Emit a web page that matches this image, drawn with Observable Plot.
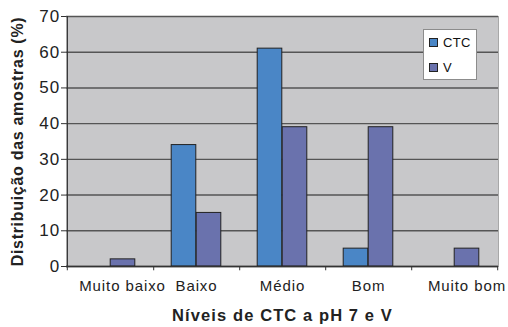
<!DOCTYPE html>
<html>
<head>
<meta charset="utf-8">
<script src="https://cdn.jsdelivr.net/npm/d3@7"></script>
<script src="https://cdn.jsdelivr.net/npm/@observablehq/plot@0.6"></script>
<style>
  html, body { margin: 0; padding: 0; background: #fff; }
  #wrap { position: relative; width: 508px; height: 327px; font-family: "Liberation Sans", Arial, sans-serif; }
  #legend { position: absolute; left: 423px; top: 29px; width: 52px; height: 49px; background: #fff; border: 1px solid #8c8c8c; font-size: 13px; color: #111; letter-spacing: 0.3px; }
  .item { position: absolute; left: 5px; display: flex; align-items: center; }
  .sw { width: 7px; height: 7px; border: 1px solid #222; margin-right: 5px; }
</style>
</head>
<body>
<div id="wrap"></div>
<script>
const categories = ["Muito baixo", "Baixo", "Médio", "Bom", "Muito bom"];
const ctcValues = [0, 34, 61, 5, 0];
const vValues = [2, 15, 39, 39, 5];
const yTicks = [0, 10, 20, 30, 40, 50, 60, 70];
const seriesNames = ["CTC", "V"];
const seriesColors = ["#4a86c6", "#6a72ad"];

const W = 508, H = 327, ML = 66, MR = 10, MT = 16, MB = 61;
const step = (W - ML - MR) / categories.length;
const barW = 25;

const ctcData = categories.map((c, i) => ({cat: c, value: ctcValues[i]}));
const vData = categories.map((c, i) => ({cat: c, value: vValues[i]}));

const chart = Plot.plot({
  width: W, height: H,
  marginLeft: ML, marginRight: MR, marginTop: MT, marginBottom: MB,
  style: {fontFamily: "'Liberation Sans', Arial, sans-serif", color: "#222", background: "transparent"},
  x: {domain: categories, padding: 0},
  y: {domain: [0, 70]},
  marks: [
    Plot.frame({fill: "#c8c8ca", stroke: null}),
    Plot.frame({anchor: "right", stroke: "#a8a8a8"}),
    Plot.ruleY(yTicks, {stroke: "#555", strokeWidth: 1.4}),
    Plot.barY(ctcData, {x: "cat", y: "value", fill: seriesColors[0], stroke: "#222", strokeWidth: 1,
      insetLeft: step / 2 - barW, insetRight: step / 2}),
    Plot.barY(vData, {x: "cat", y: "value", fill: seriesColors[1], stroke: "#222", strokeWidth: 1,
      insetLeft: step / 2, insetRight: step / 2 - barW}),
    Plot.ruleY([0], {stroke: "#333", strokeWidth: 1.3}),
    Plot.ruleX(categories, {x: d => d, y1: 0, y2: -1.2, dx: step / 2, stroke: "#333", strokeWidth: 1}),
    Plot.ruleX([categories[0]], {x: d => d, y1: 0, y2: -1.2, dx: -step / 2, stroke: "#333", strokeWidth: 1}),
    Plot.ruleX([categories[0]], {x: d => d, y1: 0, y2: 70, dx: -step / 2, stroke: "#333", strokeWidth: 1.3}),
    Plot.axisY({ticks: yTicks, tickSize: 5, tickPadding: 1, fontSize: 17, stroke: "#333",
      label: "Distribuição das amostras (%)", labelAnchor: "center", labelArrow: "none", labelOffset: 55}),
    Plot.axisX({tickSize: 0, tickPadding: 14, fontSize: 15,
      label: "Níveis de CTC a pH 7 e V", labelAnchor: "center", labelArrow: "none", labelOffset: 54})
  ]
});

chart.querySelectorAll('[aria-label="y-axis label"] text').forEach(t => {
  t.setAttribute("font-weight", "bold");
  t.setAttribute("font-size", "16");
  t.style.letterSpacing = "0.7px";
});
chart.querySelectorAll('[aria-label="x-axis label"] text').forEach(t => {
  t.setAttribute("font-weight", "bold");
  t.setAttribute("font-size", "16.5");
  t.style.letterSpacing = "1.1px";
});
const xLabels = chart.querySelectorAll('[aria-label="x-axis tick label"] text');
xLabels.forEach(t => { t.style.letterSpacing = "0.9px"; });
// the first and last labels sit slightly right of their band centres in the reference
const labelShift = {0: 12, 4: 12.5};
xLabels.forEach((t, i) => { if (labelShift[i]) t.setAttribute("dx", labelShift[i]); });
chart.querySelectorAll('[aria-label="y-axis tick label"] text').forEach(t => { t.style.letterSpacing = "1.2px"; });

const wrap = document.getElementById("wrap");
wrap.appendChild(chart);

const legend = document.createElement("div");
legend.id = "legend";
seriesNames.forEach((name, i) => {
  const item = document.createElement("div");
  item.className = "item";
  item.style.top = (5 + i * 25) + "px";
  const sw = document.createElement("div");
  sw.className = "sw";
  sw.style.background = seriesColors[i];
  item.appendChild(sw);
  const label = document.createElement("span");
  label.textContent = name;
  item.appendChild(label);
  legend.appendChild(item);
});
wrap.appendChild(legend);
</script>
</body>
</html>
